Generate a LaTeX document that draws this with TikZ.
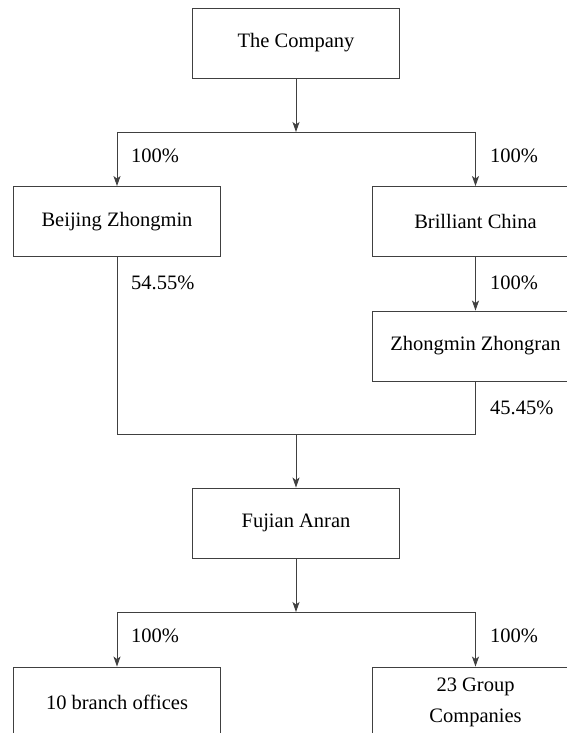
\documentclass[tikz,border=0pt]{standalone}
\usepackage{fontspec}
\setmainfont{Liberation Serif}
\usetikzlibrary{arrows.meta}
\begin{document}
\begin{tikzpicture}[x=1pt,y=-1pt,
  box/.style={draw=black!75,line width=0.9pt,minimum width=207pt,minimum height=70pt,inner sep=0pt,align=center,font=\fontsize{20.5}{31}\selectfont},
  pct/.style={anchor=west,inner sep=0pt,font=\fontsize{20.5}{24}\selectfont},
  conn/.style={draw=black!75,line width=0.9pt},
  arr/.style={conn,-{Stealth[length=10pt,width=7pt,inset=2.5pt]}}]
\clip (0,0) rectangle (567,733);
\fill[white] (0,0) rectangle (567,733);
% nodes
\node[box] (co) at (296,43) {The Company};
\node[box] (bj) at (117,221.5) {Beijing Zhongmin};
\node[box] (bc) at (475.5,221.5) {Brilliant China};
\node[box] (zz) at (475.5,346) {Zhongmin Zhongran};
\node[box] (fa) at (296,523) {Fujian Anran};
\node[box] (bo) at (117,702) {10 branch offices};
\node[box] (gc) at (475.5,702) {23 Group\\Companies};
% junctions
\coordinate (j1) at (296,132);
\coordinate (jl1) at (117,132);
\coordinate (jr1) at (475.5,132);
\coordinate (j2) at (296,434);
\coordinate (jl2) at (117,434);
\coordinate (jr2) at (475.5,434);
\coordinate (j3) at (296,612);
\coordinate (jl3) at (117,612);
\coordinate (jr3) at (475.5,612);
% connectors
\draw[arr] (co.south) -- (j1);
\draw[conn] (jl1) -- (jr1);
\draw[arr] (jl1) -- (bj.north);
\draw[arr] (jr1) -- (bc.north);
\draw[arr] (bc.south) -- (zz.north);
\draw[conn] (bj.south) -- (jl2) -- (jr2) -- (zz.south);
\draw[arr] (j2) -- (fa.north);
\draw[arr] (fa.south) -- (j3);
\draw[conn] (jl3) -- (jr3);
\draw[arr] (jl3) -- (bo.north);
\draw[arr] (jr3) -- (gc.north);
% labels
\node[pct] (l1) at (131,156) {100\%};
\node[pct] (l2) at (490,156) {100\%};
\node[pct] (l3) at (131,283) {54.55\%};
\node[pct] (l4) at (490,283) {100\%};
\node[pct] (l5) at (490,408) {45.45\%};
\node[pct] (l6) at (131,636) {100\%};
\node[pct] (l7) at (490,636) {100\%};
\end{tikzpicture}
\end{document}
